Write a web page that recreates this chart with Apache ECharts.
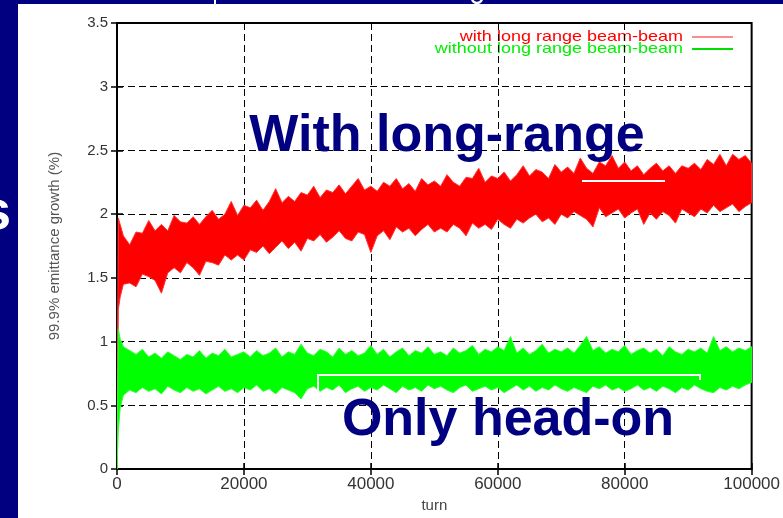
<!DOCTYPE html>
<html>
<head>
<meta charset="utf-8">
<script src="https://cdn.jsdelivr.net/npm/echarts@6/dist/echarts.min.js"></script>
<style>html,body{margin:0;padding:0;background:#000080;}#c{width:783px;height:518px;}</style>
</head>
<body>
<div id="c"></div>
<script>
// x tick labels / y tick values
const xTicks = [0, 20000, 40000, 60000, 80000, 100000];
const yTicks = [0, 0.5, 1, 1.5, 2, 2.5, 3, 3.5];
const seriesNames = ['with long range beam-beam', 'without long range beam-beam'];

// sample turns: 0, 200, 500, then every 1000 turns
const turns = [0, 200, 500];
for (let k = 1; k <= 100; k++) turns.push(k * 1000);

// red: with long range beam-beam (lower / upper envelope of the noisy trace)
const redLo = [0, 1.25, 1.35,
  1.45,1.46,1.43,1.53,1.51,1.48,1.38,1.54,1.58,1.54,
  1.62,1.58,1.52,1.63,1.62,1.60,1.68,1.64,1.68,1.64,
  1.72,1.70,1.75,1.69,1.74,1.79,1.73,1.78,1.71,1.81,
  1.79,1.84,1.78,1.82,1.87,1.81,1.79,1.86,1.84,1.70,
  1.83,1.87,1.80,1.90,1.86,1.89,1.83,1.88,1.92,1.86,
  1.89,1.86,1.92,1.89,1.83,1.93,1.89,1.92,1.88,1.96,
  1.92,1.89,1.96,1.93,1.97,2.00,1.94,1.97,1.92,2.00,
  1.97,2.02,1.99,1.96,1.90,2.05,1.98,2.01,2.04,1.97,
  2.01,2.04,1.92,2.01,1.96,2.02,1.99,1.93,2.04,2.01,
  1.98,2.04,2.01,2.07,2.02,2.05,2.08,2.02,2.06,2.09];
const redHi = [0, 1.97, 1.92,
  1.83,1.76,1.86,1.85,1.95,1.87,1.92,1.87,1.99,1.94,
  1.93,1.98,1.92,1.98,2.03,1.96,2.00,2.10,1.99,2.07,
  2.05,2.11,2.03,2.10,2.20,2.09,2.14,2.10,2.17,2.15,
  2.22,2.13,2.19,2.17,2.23,2.16,2.22,2.28,2.19,2.22,
  2.18,2.25,2.22,2.28,2.20,2.24,2.18,2.28,2.23,2.26,
  2.22,2.31,2.25,2.22,2.29,2.28,2.36,2.25,2.30,2.28,
  2.33,2.26,2.31,2.38,2.30,2.35,2.33,2.28,2.39,2.33,
  2.37,2.32,2.44,2.36,2.32,2.41,2.38,2.46,2.36,2.41,
  2.34,2.38,2.31,2.36,2.40,2.34,2.38,2.32,2.38,2.36,
  2.40,2.35,2.43,2.39,2.47,2.38,2.47,2.43,2.46,2.40];

// green: without long range beam-beam
const greenLo = [0, 0.30, 0.48,
  0.58,0.62,0.60,0.64,0.61,0.63,0.59,0.65,0.62,0.60,
  0.64,0.61,0.63,0.59,0.62,0.65,0.61,0.63,0.60,0.64,
  0.62,0.66,0.61,0.63,0.59,0.64,0.62,0.60,0.55,0.63,
  0.65,0.61,0.64,0.62,0.66,0.60,0.63,0.65,0.61,0.64,
  0.62,0.66,0.63,0.60,0.65,0.62,0.64,0.61,0.66,0.63,
  0.65,0.62,0.60,0.64,0.66,0.61,0.63,0.65,0.62,0.64,
  0.60,0.63,0.66,0.62,0.65,0.61,0.64,0.62,0.66,0.63,
  0.61,0.64,0.62,0.60,0.65,0.63,0.66,0.62,0.64,0.61,
  0.63,0.66,0.62,0.64,0.61,0.65,0.63,0.60,0.64,0.62,
  0.66,0.63,0.61,0.60,0.64,0.62,0.65,0.63,0.66,0.68];
const greenHi = [0, 1.10, 1.02,
  0.96,0.93,0.90,0.94,0.88,0.91,0.87,0.92,0.89,0.86,
  0.90,0.88,0.93,0.87,0.91,0.89,0.94,0.88,0.90,0.92,
  0.88,0.93,0.89,0.91,0.95,0.88,0.92,0.90,0.98,0.91,
  0.89,0.94,0.92,0.88,0.95,0.90,0.93,0.89,0.91,0.97,
  0.90,0.94,0.88,0.92,0.95,0.89,0.93,0.91,0.96,0.90,
  0.92,0.89,0.95,0.91,0.93,0.97,0.90,0.94,0.92,0.96,
  0.93,1.04,0.91,0.95,0.90,0.93,0.98,0.91,0.94,0.92,
  0.95,0.91,0.97,1.04,0.93,0.96,0.91,0.94,0.92,0.97,
  0.90,0.93,0.95,0.91,0.94,0.89,0.96,0.92,0.90,0.94,
  0.92,0.95,0.91,1.04,0.93,0.96,0.92,0.95,0.93,0.96];

const FONT = 'Liberation Sans, Arial, sans-serif';

// one filled envelope polygon per series, placed through the axes (api.coord)
const bandSeries = (name, lo, hi, color, edge, z) => ({
  name, type: 'custom', z, clip: true,
  data: turns.map((t, i) => [t, lo[i], hi[i]]),
  encode: {x: 0, y: [1, 2]},
  itemStyle: {color},
  renderItem: (params, api) => {
    if (params.dataIndex !== 0) return null;
    const top = turns.map((t, i) => api.coord([t, hi[i]]));
    const bot = turns.map((t, i) => api.coord([t, lo[i]])).reverse();
    return {type: 'polygon', shape: {points: top.concat(bot)},
      style: {fill: color, stroke: edge, lineWidth: 1, lineJoin: 'miter'}};
  }
});

const legendItem = (text, color, lineColor, y) => ({
  type: 'group', z: 50, children: [
    {type: 'text', x: 683, y, scaleX: 1.2, originX: 0,
      style: {text, x: 0, y: 0, align: 'right', verticalAlign: 'middle', font: '15px ' + FONT, fill: color}},
    {type: 'line', shape: {x1: 692, y1: y, x2: 733, y2: y}, style: {stroke: lineColor, lineWidth: 2}}
  ]
});

const chart = echarts.init(document.getElementById('c'), null, {renderer: 'canvas'});
const gridLine = {show: true, lineStyle: {color: '#000', width: 1, type: [7, 4]}};
const tick = {inside: true, length: 6, lineStyle: {color: '#000', width: 1.5}};
const option = {
  animation: false,
  backgroundColor: '#000080',
  grid: {left: 117, right: 30, top: 23, bottom: 44, show: true, borderColor: '#000', borderWidth: 2, backgroundColor: 'transparent'},
  xAxis: [{
    type: 'value', min: 0, max: 100000, interval: 20000,
    name: 'turn', nameLocation: 'middle', nameGap: 28,
    nameTextStyle: {fontFamily: FONT, fontSize: 15, color: '#444'},
    axisLine: {lineStyle: {color: '#000', width: 2}},
    axisTick: tick,
    axisLabel: {fontFamily: FONT, fontSize: 17, color: '#333', margin: 7, formatter: v => String(v)},
    splitLine: gridLine
  }, {
    type: 'value', position: 'top', min: 0, max: 100000, interval: 20000,
    axisLine: {show: false}, axisLabel: {show: false}, splitLine: {show: false}, axisTick: tick
  }],
  yAxis: [{
    type: 'value', min: 0, max: 3.5, interval: 0.5,
    name: '99.9% emittance growth (%)', nameLocation: 'middle', nameGap: 55, nameRotate: 90,
    nameTextStyle: {fontFamily: FONT, fontSize: 15, color: '#555'},
    axisLine: {lineStyle: {color: '#000', width: 2}},
    axisTick: tick,
    axisLabel: {fontFamily: FONT, fontSize: 15, color: '#333', margin: 9, formatter: v => String(v)},
    splitLine: gridLine
  }, {
    type: 'value', position: 'right', min: 0, max: 3.5, interval: 0.5,
    axisLine: {show: false}, axisLabel: {show: false}, splitLine: {show: false}, axisTick: tick
  }],
  series: [
    bandSeries(seriesNames[0], redLo, redHi, '#ff0000', '#ff3030', 3),
    bandSeries(seriesNames[1], greenLo, greenHi, '#00ff00', '#30ff30', 4)
  ],
  graphic: [
    {type: 'rect', z: -10, silent: true, shape: {x: 18, y: 4, width: 765, height: 514}, style: {fill: '#fff'}},
    legendItem(seriesNames[0], '#ff0000', '#ff8c8c', 37),
    legendItem(seriesNames[1], '#00f000', '#00e000', 49),
    {type: 'text', z: 100, style: {text: 's', x: 11, y: 241, align: 'right', verticalAlign: 'bottom',
      font: 'bold 55px ' + FONT, fill: '#fff'}},
    {type: 'text', z: 100, style: {text: 'With long-range', x: 447, y: 137, align: 'center', verticalAlign: 'middle',
      font: 'bold 52px ' + FONT, fill: '#000080'}},
    {type: 'text', z: 100, style: {text: 'Only head-on', x: 508, y: 421, align: 'center', verticalAlign: 'middle',
      font: 'bold 52px ' + FONT, fill: '#000080'}},
    {type: 'polyline', z: 100, shape: {points: [[582, 181], [665, 181]]}, style: {stroke: '#fff', lineWidth: 2}},
    {type: 'polyline', z: 100, shape: {points: [[318, 397], [318, 375], [700, 375], [700, 380]]}, style: {stroke: '#fff', lineWidth: 2, fill: null}},
    {type: 'rect', z: 100, shape: {x: 214, y: 0, width: 2, height: 4}, style: {fill: '#fff'}},
    {type: 'arc', z: 100, shape: {cx: 477, cy: -2, r: 5, startAngle: 0, endAngle: Math.PI}, style: {stroke: '#fff', lineWidth: 2.5, fill: null}}
  ]
};
chart.setOption(option);
</script>
</body>
</html>
